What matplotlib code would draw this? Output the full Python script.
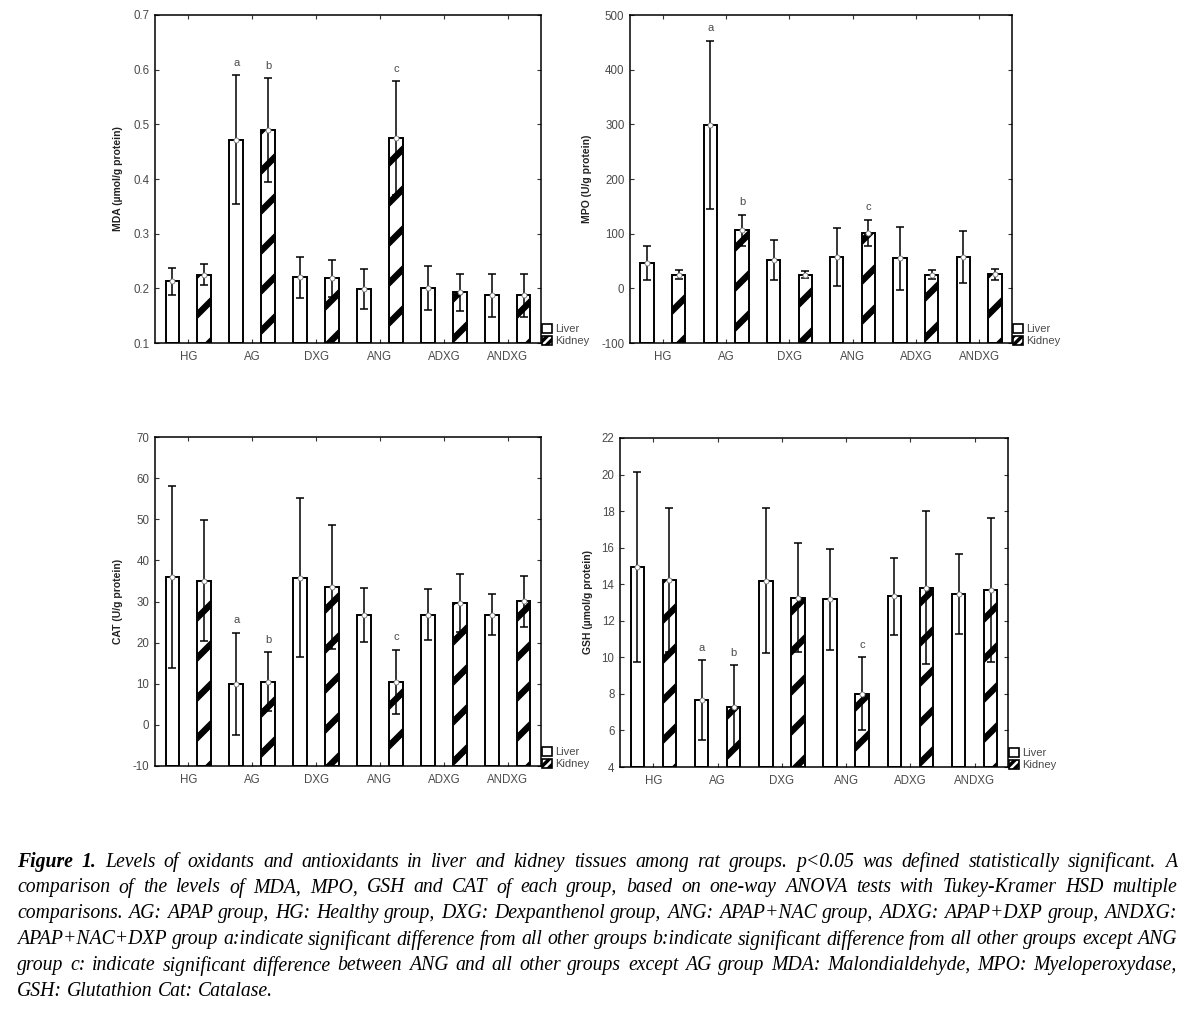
#!/usr/bin/env python3
"""Figura 1: oxidantes / antioxidantes en hígado y riñón por grupo (4 paneles)."""

import matplotlib
matplotlib.use("Agg")
import matplotlib.pyplot as plt
import numpy as np
from matplotlib.collections import LineCollection
from matplotlib.patches import Patch
from matplotlib.ticker import FormatStrFormatter

FIG_W, FIG_H, DPI = 1193, 1013, 100

plt.rcParams["font.family"] = ["Liberation Sans", "DejaVu Sans"]
plt.rcParams["hatch.linewidth"] = 2.5

# ── Datos ─────────────────────────────────────────────────────────────────────
GROUPS = ["HG", "AG", "DXG", "ANG", "ADXG", "ANDXG"]
SERIES = ["Liver", "Kidney"]

MDA_LIVER = [0.213, 0.472, 0.220, 0.199, 0.200, 0.187]
MDA_LIVER_SD = [0.025, 0.118, 0.037, 0.037, 0.040, 0.040]
MDA_KIDNEY = [0.225, 0.489, 0.218, 0.475, 0.193, 0.187]
MDA_KIDNEY_SD = [0.019, 0.095, 0.034, 0.104, 0.034, 0.040]

MPO_LIVER = [47, 299, 52, 57, 55, 57]
MPO_LIVER_SD = [31, 154, 36, 53, 58, 48]
MPO_KIDNEY = [25, 106, 25, 101, 25, 26]
MPO_KIDNEY_SD = [8, 29, 6, 24, 8, 10]

CAT_LIVER = [36.0, 10.0, 35.8, 26.7, 26.8, 26.8]
CAT_LIVER_SD = [22.2, 12.4, 19.4, 6.5, 6.2, 5.0]
CAT_KIDNEY = [35.1, 10.5, 33.5, 10.5, 29.6, 30.1]
CAT_KIDNEY_SD = [14.8, 7.2, 15.0, 7.8, 7.0, 6.2]

GSH_LIVER = [14.95, 7.65, 14.2, 13.17, 13.34, 13.47]
GSH_LIVER_SD = [5.2, 2.2, 3.95, 2.75, 2.12, 2.17]
GSH_KIDNEY = [14.23, 7.27, 13.27, 8.0, 13.8, 13.7]
GSH_KIDNEY_SD = [3.95, 2.3, 3.0, 2.0, 4.18, 3.95]

# (grupo, serie 0=Liver 1=Kidney, letra)
SIG_MARKS = [(1, 0, "a"), (1, 1, "b"), (3, 1, "c")]

CAPTION_LINES = [
    "Figure 1. Levels of oxidants and antioxidants in liver and kidney tissues among rat groups. p<0.05 was defined statistically significant. A",
    "comparison of the levels of MDA, MPO, GSH and CAT of each group, based on one-way ANOVA tests with Tukey-Kramer HSD multiple",
    "comparisons. AG: APAP group, HG: Healthy group, DXG: Dexpanthenol group, ANG: APAP+NAC group, ADXG: APAP+DXP group, ANDXG:",
    "APAP+NAC+DXP group a:indicate significant difference from all other groups b:indicate significant difference from all other groups except ANG",
    "group c: indicate significant difference between ANG and all other groups except AG group MDA: Malondialdehyde, MPO: Myeloperoxydase,",
    "GSH: Glutathion Cat: Catalase.",
]

TXT = "#4a4a4a"


def _px_rect(left, top, right, bottom):
    """Caja en píxeles de imagen -> [l, b, w, h] en fracción de figura."""
    return [left / FIG_W, 1 - bottom / FIG_H, (right - left) / FIG_W, (bottom - top) / FIG_H]


def _add_stripes(ax, bars, spacing_px=40, lw=4.6):
    """Rayado diagonal grueso recortado a cada barra (patrón común por panel)."""
    pos = ax.get_position()
    w_px, h_px = pos.width * FIG_W, pos.height * FIG_H
    offsets = np.arange(-w_px - spacing_px, h_px + spacing_px, spacing_px) + 12
    segs = [[(0, c / h_px), (1, (c + w_px) / h_px)] for c in offsets]
    for bar in bars:
        lc = LineCollection(segs, colors="black", linewidths=lw,
                            transform=ax.transAxes, zorder=2.5, capstyle="butt")
        ax.add_collection(lc, autolim=False)
        lc.set_clip_path(bar)


def draw_panel(ax, liver, liver_sd, kidney, kidney_sd, ylim, ystep, ylabel,
               label_x, fmt):
    x = np.arange(len(GROUPS))
    off, w = 0.25, 0.21
    base = ylim[0]
    ax.bar(x - off, np.asarray(liver) - base, width=w, bottom=base, color="white",
           edgecolor="black", linewidth=1.4, zorder=2)
    kb = ax.bar(x + off, np.asarray(kidney) - base, width=w, bottom=base, color="white",
                edgecolor="black", linewidth=1.4, zorder=2)
    _add_stripes(ax, kb)

    for xs, m, sd in ((x - off, liver, liver_sd), (x + off, kidney, kidney_sd)):
        ax.errorbar(xs, m, yerr=sd, fmt="none", ecolor="black",
                    elinewidth=1.1, capsize=2.8, capthick=1.1, zorder=4)
        ax.plot(xs, m, "o", ms=3.6, mfc="white", mec="#777", mew=0.6, zorder=5)

    for g, s, letter in SIG_MARKS:
        vals, sds = (liver, liver_sd) if s == 0 else (kidney, kidney_sd)
        xs = g - off if s == 0 else g + off
        ax.annotate(letter, (xs, vals[g] + sds[g]), xytext=(0, 9),
                    textcoords="offset points", ha="center", va="center",
                    fontsize=8, color=TXT)

    ax.set_xlim(-0.52, len(GROUPS) - 0.48)
    ax.set_ylim(*ylim)
    ax.set_yticks(np.arange(ylim[0], ylim[1] + ystep / 2, ystep))
    ax.yaxis.set_major_formatter(FormatStrFormatter(fmt))
    ax.set_xticks(x)
    ax.set_xticklabels(GROUPS)
    ax.tick_params(direction="in", length=3, width=0.8, colors="#333",
                   labelcolor=TXT, labelsize=8.3, top=True, right=True)
    ax.tick_params(axis="x", pad=6)
    ax.tick_params(axis="y", pad=4)
    for sp in ax.spines.values():
        sp.set_linewidth(1.1)
    ax.set_ylabel(ylabel, fontsize=7.5, fontweight="bold", color="#222")
    ax.yaxis.set_label_coords(label_x, 0.5)

    handles = [Patch(facecolor="white", edgecolor="black", linewidth=1.2, label=SERIES[0]),
               Patch(facecolor="white", edgecolor="black", linewidth=1.2,
                     hatch="////", label=SERIES[1])]
    leg = ax.legend(handles=handles, loc="lower left", bbox_to_anchor=(1.003, -0.01),
                    frameon=False, fontsize=8, handlelength=0.9, handleheight=0.9,
                    handletextpad=0.3, labelspacing=0.15, borderpad=0,
                    borderaxespad=0)
    for t in leg.get_texts():
        t.set_color(TXT)


def draw_caption(fig, left=17, right=1177, y0=862, dy=25.9, size=14.2):
    """Leyenda justificada a ambos lados, palabra por palabra."""
    renderer = fig.canvas.get_renderer()
    space = 0.25 * size * DPI / 72
    for i, line in enumerate(CAPTION_LINES):
        y = 1 - (y0 + i * dy) / FIG_H
        words = line.split(" ")
        texts = [fig.text(0, y, wd, fontsize=size, family="Liberation Serif",
                          style="italic", va="center", ha="left", color="black",
                          weight="bold" if (i == 0 and j < 2) else "normal")
                 for j, wd in enumerate(words)]
        widths = [t.get_window_extent(renderer).width for t in texts]
        if i == len(CAPTION_LINES) - 1:
            gap = space
        else:
            gap = max((right - left - sum(widths)) / (len(words) - 1), 1.5)
        xpos = left
        for t, wpx in zip(texts, widths):
            t.set_x(xpos / FIG_W)
            xpos += wpx + gap


fig = plt.figure(figsize=(FIG_W / DPI, FIG_H / DPI), dpi=DPI)

panels = [
    (_px_rect(155, 15, 541, 343), MDA_LIVER, MDA_LIVER_SD, MDA_KIDNEY, MDA_KIDNEY_SD,
     (0.1, 0.7), 0.1, "MDA (µmol/g protein)", -0.083, "%.1f"),
    (_px_rect(630, 15, 1012, 343), MPO_LIVER, MPO_LIVER_SD, MPO_KIDNEY, MPO_KIDNEY_SD,
     (-100, 500), 100, "MPO (U/g protein)", -0.099, "%d"),
    (_px_rect(155, 437, 541, 766), CAT_LIVER, CAT_LIVER_SD, CAT_KIDNEY, CAT_KIDNEY_SD,
     (-10, 70), 10, "CAT (U/g protein)", -0.083, "%d"),
    (_px_rect(620, 438, 1008, 767), GSH_LIVER, GSH_LIVER_SD, GSH_KIDNEY, GSH_KIDNEY_SD,
     (4, 22), 2, "GSH (µmol/g protein)", -0.070, "%d"),
]

for rect, lv, lsd, kd, ksd, ylim, step, lab, lx, fmt in panels:
    ax = fig.add_axes(rect)
    draw_panel(ax, lv, lsd, kd, ksd, ylim, step, lab, lx, fmt)

draw_caption(fig)

fig.savefig("out.png", dpi=DPI, facecolor="white")
